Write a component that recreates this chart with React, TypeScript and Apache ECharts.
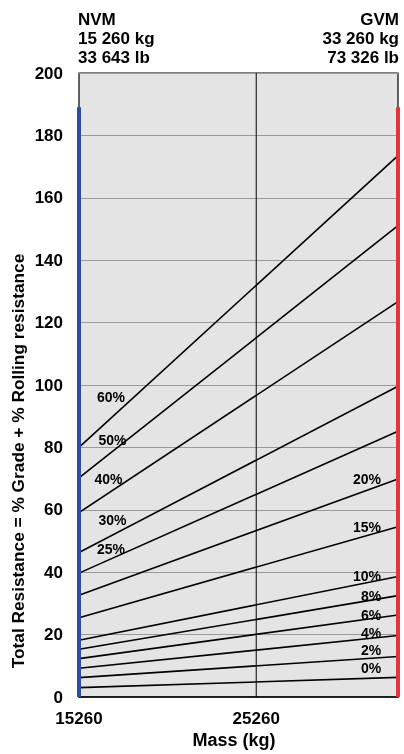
import React, { useEffect, useRef } from "react";
import * as echarts from "echarts";

const massRange = [15260, 33260];
const massTicks = [15260, 25260];
const grades = ["60%", "50%", "40%", "30%", "25%", "20%", "15%", "10%", "8%", "6%", "4%", "2%", "0%"];
const resistanceAtNVM = [80, 70.2, 59.1, 46.3, 39.7, 32.6, 25.4, 18.2, 15.3, 12.3, 9.2, 6.2, 3.0];
const resistanceAtGVM = [173.5, 151.1, 126.7, 99.6, 85.2, 69.9, 54.6, 38.6, 32.5, 26.3, 19.7, 13.0, 6.3];
const edgeTop = 189;
const centerMass = 25260;

const leftLabelNames = ["60%", "50%", "40%", "30%", "25%"];
const leftLabelMass = [17094, 17178, 16952, 17178, 17094];
const leftLabelValue = [96, 82.3, 69.8, 56.5, 47.4];
const rightLabelNames = ["20%", "15%", "10%", "8%", "6%", "4%", "2%", "0%"];
const rightLabelMass = [31539, 31539, 31539, 31765, 31765, 31765, 31765, 31765];
const rightLabelValue = [69.7, 54.4, 38.5, 32.3, 26.2, 20.4, 14.9, 9.1];

const FONT = '"Liberation Sans", Arial, Helvetica, sans-serif';

export default function App() {
  const ref = useRef<HTMLDivElement>(null);
  useEffect(() => {
    const chart = echarts.init(ref.current!, null, { renderer: "svg" });
    const gradeSeries = grades.map((g, i) => ({
      type: "line",
      name: g,
      data: [
        [massRange[0], resistanceAtNVM[i]],
        [massRange[1], resistanceAtGVM[i]],
      ],
      symbol: "none",
      lineStyle: { color: "#000", width: 1.6 },
      z: 3,
      silent: true,
    }));
    const labelData = [
      ...leftLabelNames.map((n, i) => ({ name: n, value: [leftLabelMass[i], leftLabelValue[i]] })),
      ...rightLabelNames.map((n, i) => ({ name: n, value: [rightLabelMass[i], rightLabelValue[i]] })),
    ];
    chart.setOption({
      animation: false,
      textStyle: { fontFamily: FONT },
      grid: {
        left: 79,
        right: 6,
        top: 73,
        bottom: 57,
        show: true,
        backgroundColor: "#e4e4e4",
        borderColor: "#000",
        borderWidth: 1.2,
      },
      xAxis: {
        type: "value",
        min: massRange[0],
        max: massRange[1],
        axisLine: { show: true, lineStyle: { color: "#000", width: 1.5 } },
        axisTick: { show: false },
        splitLine: { show: false },
        axisLabel: {
          customValues: massTicks,
          formatter: (v: number) => String(v),
          fontSize: 17,
          fontWeight: "bold",
          color: "#000",
          fontFamily: FONT,
          margin: 13,
        },
      },
      yAxis: {
        type: "value",
        min: 0,
        max: 200,
        interval: 20,
        axisLine: { show: false },
        axisTick: { show: false },
        splitLine: { show: true, lineStyle: { color: "#9a9a9a", width: 1 } },
        axisLabel: {
          fontSize: 17,
          fontWeight: "bold",
          color: "#000",
          fontFamily: FONT,
          margin: 16,
        },
      },
      graphic: [
        { type: "text", x: 78, y: 19, style: { text: "NVM", font: `bold 17px ${FONT}`, fill: "#000", textAlign: "left", textVerticalAlign: "middle" } },
        { type: "text", x: 78, y: 38, style: { text: "15 260 kg", font: `bold 17px ${FONT}`, fill: "#000", textAlign: "left", textVerticalAlign: "middle" } },
        { type: "text", x: 78, y: 57, style: { text: "33 643 lb", font: `bold 17px ${FONT}`, fill: "#000", textAlign: "left", textVerticalAlign: "middle" } },
        { type: "text", x: 399, y: 19, style: { text: "GVM", font: `bold 17px ${FONT}`, fill: "#000", textAlign: "right", textVerticalAlign: "middle" } },
        { type: "text", x: 399, y: 38, style: { text: "33 260 kg", font: `bold 17px ${FONT}`, fill: "#000", textAlign: "right", textVerticalAlign: "middle" } },
        { type: "text", x: 399, y: 57, style: { text: "73 326 lb", font: `bold 17px ${FONT}`, fill: "#000", textAlign: "right", textVerticalAlign: "middle" } },
        {
          type: "text",
          x: 18,
          y: 461,
          rotation: Math.PI / 2,
          style: {
            text: "Total Resistance = % Grade + % Rolling resistance",
            font: `bold 17.3px ${FONT}`,
            fill: "#000",
            textAlign: "center",
            textVerticalAlign: "middle",
          },
        },
        {
          type: "text",
          x: 234,
          y: 740,
          style: { text: "Mass (kg)", font: `bold 18px ${FONT}`, fill: "#000", textAlign: "center", textVerticalAlign: "middle" },
        },
      ],
      series: [
        {
          type: "line",
          data: [
            [centerMass, 0],
            [centerMass, 200],
          ],
          symbol: "none",
          lineStyle: { color: "#000", width: 1 },
          z: 2,
          silent: true,
        },
        ...gradeSeries,
        {
          type: "line",
          data: [
            [massRange[0], 0],
            [massRange[0], edgeTop],
          ],
          symbol: "none",
          clip: false,
          lineStyle: { color: "#2c4ea2", width: 4 },
          z: 5,
          silent: true,
        },
        {
          type: "line",
          data: [
            [massRange[1], 0],
            [massRange[1], edgeTop],
          ],
          symbol: "none",
          clip: false,
          lineStyle: { color: "#e8333b", width: 4 },
          z: 5,
          silent: true,
        },
        {
          type: "scatter",
          data: labelData,
          symbolSize: 1,
          itemStyle: { color: "transparent" },
          z: 6,
          silent: true,
          label: {
            show: true,
            position: [0, 0],
            align: "center",
            verticalAlign: "middle",
            formatter: "{b}",
            fontSize: 14,
            fontWeight: "bold",
            color: "#000",
            textBorderWidth: 0,
            opacity: 1,
            fontFamily: FONT,
          },
        },
      ],
    });
    return () => chart.dispose();
  }, []);
  return (
    <div
      ref={ref}
      style={{ position: "fixed", left: 0, top: 0, width: 404, height: 754 }}
    />
  );
}
